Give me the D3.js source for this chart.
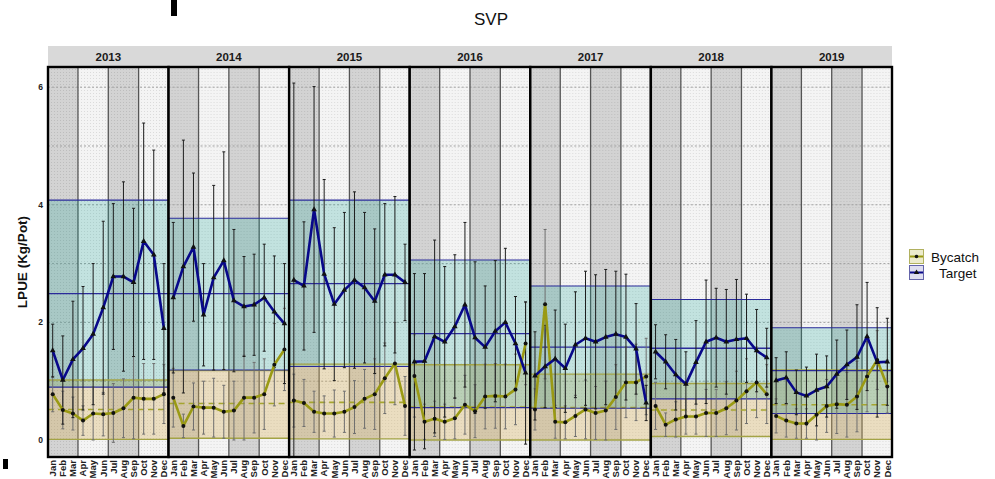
<!DOCTYPE html>
<html><head><meta charset="utf-8">
<script src="https://cdn.jsdelivr.net/npm/d3@7"></script>
<style>
body{margin:0;background:#fff;}
svg{display:block;}
text{font-family:"Liberation Sans",Arial,sans-serif;}
</style>
</head><body>
<svg id="chart" width="995" height="479"></svg>
<script>
// ---------------- DATA ----------------
const title = "SVP";
const yLabel = "LPUE (Kg/Pot)";
const years = ["2013","2014","2015","2016","2017","2018","2019"];
const months = ["Jan","Feb","Mar","Apr","May","Jun","Jul","Aug","Sep","Oct","Nov","Dec"];
const yTicks = [0,2,4,6];
const seriesNames = ["Bycatch","Target"];

// monthly means (one row per year)
const targetMean = [
  [1.52,1.02,1.37,1.56,1.80,2.25,2.78,2.78,2.68,3.38,3.15,1.90],
  [2.42,2.95,3.28,2.13,2.76,3.05,2.37,2.27,2.30,2.42,2.18,1.98],
  [2.72,2.62,3.92,2.82,2.31,2.55,2.72,2.59,2.36,2.81,2.81,2.68],
  [1.33,1.34,1.76,1.67,1.93,2.30,1.74,1.58,1.85,2.00,1.64,1.14],
  [1.09,1.25,1.38,1.22,1.62,1.73,1.67,1.75,1.80,1.75,1.55,0.63],
  [1.50,1.33,1.11,0.95,1.32,1.67,1.74,1.67,1.71,1.73,1.52,1.40],
  [1.01,1.06,0.81,0.75,0.85,0.91,1.12,1.28,1.41,1.76,1.32,1.33]
];
const targetSD = [
  [0.45,0.75,0.99,1.05,1.20,1.47,1.24,1.61,1.26,2.01,1.78,1.10],
  [1.28,2.15,1.26,0.87,1.57,1.85,1.21,0.85,0.86,0.91,0.95,1.02],
  [3.35,1.09,2.09,1.61,1.30,1.32,1.50,1.28,1.23,1.21,1.33,0.65],
  [1.50,1.49,1.64,1.28,1.22,1.40,1.29,1.04,1.20,1.26,0.80,1.21],
  [0.75,0.70,0.83,0.75,0.90,1.14,1.14,1.15,1.07,1.07,0.77,0.30],
  [0.46,0.46,0.60,0.55,0.71,1.05,0.84,0.89,1.02,0.75,0.70,0.50],
  [0.39,0.44,0.38,0.49,0.61,0.52,0.58,0.59,0.89,0.92,0.93,0.74]
];
const bycatchMean = [
  [0.78,0.51,0.45,0.33,0.45,0.44,0.46,0.54,0.72,0.70,0.70,0.78],
  [0.72,0.24,0.57,0.55,0.55,0.48,0.50,0.72,0.72,0.78,1.28,1.54],
  [0.67,0.63,0.48,0.45,0.45,0.48,0.56,0.70,0.78,1.05,1.30,0.58],
  [1.09,0.31,0.36,0.31,0.37,0.60,0.49,0.74,0.75,0.74,0.86,1.64],
  [0.52,2.31,0.31,0.30,0.41,0.52,0.46,0.50,0.73,0.98,0.98,1.08],
  [0.58,0.26,0.35,0.40,0.40,0.46,0.46,0.54,0.67,0.83,0.98,0.78],
  [0.41,0.33,0.28,0.28,0.43,0.58,0.61,0.60,0.74,1.08,1.36,0.91]
];
const bycatchSD = [
  [0.30,0.32,0.28,0.25,0.45,0.37,0.50,0.50,0.70,0.60,0.60,0.50],
  [0.50,0.20,0.40,0.45,0.50,0.45,0.50,0.72,0.60,0.60,0.70,0.70],
  [0.45,0.40,0.35,0.30,0.40,0.35,0.45,0.50,0.60,0.60,0.70,0.50],
  [0.70,0.30,0.30,0.30,0.35,0.50,0.45,0.55,0.55,0.55,0.60,0.70],
  [0.35,1.27,0.28,0.28,0.35,0.50,0.45,0.50,0.55,0.60,0.65,0.65],
  [0.40,0.20,0.30,0.30,0.30,0.40,0.40,0.45,0.50,0.55,0.60,0.50],
  [0.29,0.28,0.25,0.25,0.43,0.45,0.50,0.55,0.60,0.60,0.50,0.45]
];
// yearly reference bands (low / centre / high), one value per year
const targetBandLow  = [0.90,1.19,1.25,0.55,0.54,0.70,0.45];
const targetBandMid  = [2.49,2.49,2.66,1.81,1.58,1.56,1.18];
const targetBandHigh = [4.08,3.77,4.08,3.06,2.62,2.39,1.91];
const bycatchBandLow  = [0.01,0.03,0.02,0.00,0.00,0.06,0.01];
const bycatchBandMid  = [0.52,0.62,0.64,0.56,0.55,0.51,0.60];
const bycatchBandHigh = [1.02,1.18,1.29,1.28,1.12,0.96,1.19];

// ---------------- LAYOUT ----------------
const svg = d3.select("#chart");
const panelTop = 67, panelBottom = 457, stripTop = 46;
const fx = d3.scaleBand().domain(years).range([48, 892]).paddingInner(0).paddingOuter(0);
const bw = fx.bandwidth();
const x = d3.scalePoint().domain(months).range([0, bw]).padding(0.465);
const step = x.step();
const y = d3.scaleLinear().domain([-0.289, 6.343]).range([panelBottom, panelTop]);

const C = {
  navy: "#08088a", olive: "#9a9a14", tBorder: "#2a2a9a", bBorder: "#a3a345",
  tFill: "rgba(20,165,150,0.22)", bFill: "rgba(215,175,85,0.32)",
  qDark: "#d3d3d3", qLight: "#f4f4f4"
};

const defs = svg.append("defs");
const pat = defs.append("pattern").attr("id","dots").attr("width",3).attr("height",3)
  .attr("patternUnits","userSpaceOnUse");
pat.append("rect").attr("width",1).attr("height",1).attr("fill","rgba(0,0,0,0.10)");

// title
svg.append("text").attr("x",491).attr("y",25).attr("text-anchor","middle")
  .attr("font-size",17).attr("fill","#111").text(title);

// y label
svg.append("text").attr("transform",`translate(27,${(panelTop+panelBottom)/2}) rotate(-90)`)
  .attr("text-anchor","middle").attr("font-size",13.5).attr("font-weight","bold")
  .attr("fill","#111").text(yLabel);

// y tick labels
svg.selectAll("text.ytick").data(yTicks).join("text").attr("class","ytick")
  .attr("x",43).attr("y",d=>y(d)+3).attr("text-anchor","end")
  .attr("font-size",8.5).attr("font-weight","bold").attr("fill","#222").text(d=>d);

// strip
svg.append("rect").attr("x",48).attr("y",stripTop).attr("width",892-48).attr("height",panelTop-stripTop)
  .attr("fill","#d9d9d9");

years.forEach((yr, i) => {
  const gx = fx(yr);
  const g = svg.append("g").attr("transform",`translate(${gx},0)`);
  defs.append("clipPath").attr("id","clip"+i).append("rect")
    .attr("x",0).attr("y",panelTop).attr("width",bw).attr("height",panelBottom-panelTop);

  g.append("text").attr("x",bw/2).attr("y",stripTop+15).attr("text-anchor","middle")
    .attr("font-size",11.5).attr("font-weight","bold").attr("fill","#1a1a1a").text(yr);

  const p = g.append("g").attr("clip-path",`url(#clip${i})`);
  // quarter bands
  for (let q = 0; q < 4; q++) {
    const x0 = q === 0 ? 0 : x(months[3*q]) - step/2;
    const x1 = q === 3 ? bw : x(months[3*q+2]) + step/2;
    p.append("rect").attr("x",x0).attr("y",panelTop).attr("width",x1-x0).attr("height",panelBottom-panelTop)
      .attr("fill", q % 2 === 0 ? C.qDark : C.qLight);
  }
  p.append("rect").attr("x",0).attr("y",panelTop).attr("width",bw).attr("height",panelBottom-panelTop)
    .attr("fill","url(#dots)");
  // dotted major lines
  d3.range(1,7).forEach(v => {
    p.append("line").attr("x1",0).attr("x2",bw).attr("y1",y(v)).attr("y2",y(v))
      .attr("stroke","#a0a0a0").attr("stroke-width",1).attr("stroke-dasharray","2,2");
  });
  // quarter dividers
  [3,6,9].forEach(m => {
    const xv = x(months[m]) - step/2;
    p.append("line").attr("x1",xv).attr("x2",xv).attr("y1",panelTop).attr("y2",panelBottom)
      .attr("stroke","#555").attr("stroke-width",1.3);
  });

  // reference bands
  p.append("rect").attr("x",0).attr("width",bw)
    .attr("y",y(bycatchBandHigh[i])).attr("height",y(bycatchBandLow[i])-y(bycatchBandHigh[i]))
    .attr("fill",C.bFill);
  p.append("rect").attr("x",0).attr("width",bw)
    .attr("y",y(targetBandHigh[i])).attr("height",y(targetBandLow[i])-y(targetBandHigh[i]))
    .attr("fill",C.tFill);
  const hline = (v, col, w, dash) => {
    const l = p.append("line").attr("x1",0).attr("x2",bw).attr("y1",y(v)).attr("y2",y(v))
      .attr("stroke",col).attr("stroke-width",w);
    if (dash) l.attr("stroke-dasharray",dash);
  };
  hline(bycatchBandLow[i], C.bBorder, 1.4);
  hline(bycatchBandHigh[i], C.bBorder, 1.4);
  hline(bycatchBandMid[i], "#a5a530", 1.6, "6,4");
  hline(targetBandLow[i], C.tBorder, 1.1);
  hline(targetBandHigh[i], C.tBorder, 1.1);
  hline(targetBandMid[i], C.tBorder, 1.3);

  // error bars
  const drawErr = (means, sds, col) => {
    months.forEach((m, j) => {
      const lo = means[j] - sds[j], hi = means[j] + sds[j];
      const xv = x(m);
      p.append("line").attr("x1",xv).attr("x2",xv).attr("y1",y(lo)).attr("y2",y(hi))
        .attr("stroke",col).attr("stroke-width",1);
      [lo,hi].forEach(v => p.append("line").attr("x1",xv-1.5).attr("x2",xv+1.5)
        .attr("y1",y(v)).attr("y2",y(v)).attr("stroke",col).attr("stroke-width",1));
    });
  };
  drawErr(bycatchMean[i], bycatchSD[i], "#6e6e6e");
  drawErr(targetMean[i], targetSD[i], "#1c1c1c");

  // lines
  const line = d3.line().x((d,j)=>x(months[j])).y(d=>y(d));
  p.append("path").attr("d",line(bycatchMean[i])).attr("fill","none")
    .attr("stroke",C.olive).attr("stroke-width",2.6).attr("stroke-linejoin","round");
  p.append("path").attr("d",line(targetMean[i])).attr("fill","none")
    .attr("stroke",C.navy).attr("stroke-width",2.6).attr("stroke-linejoin","round");
  // markers
  bycatchMean[i].forEach((v,j) => p.append("circle").attr("cx",x(months[j])).attr("cy",y(v))
    .attr("r",2).attr("fill","#111"));
  const tri = d3.symbol().type(d3.symbolTriangle).size(14);
  targetMean[i].forEach((v,j) => p.append("path").attr("d",tri())
    .attr("transform",`translate(${x(months[j])},${y(v)})`).attr("fill","#111"));

  // panel border
  g.append("rect").attr("x",0).attr("y",panelTop).attr("width",bw).attr("height",panelBottom-panelTop)
    .attr("fill","none").attr("stroke","#000").attr("stroke-width",2.4);

  // month labels
  months.forEach(m => {
    g.append("text").attr("transform",`translate(${x(m)+3.3},${panelBottom+3}) rotate(-90)`)
      .attr("text-anchor","end").attr("font-size",9.5).attr("font-weight","bold")
      .attr("fill","#222").text(m);
  });
});

// legend
const lg = svg.append("g");
const keys = [
  {name: seriesNames[0], y: 249, fill:"#ecebcd", stroke:"#b1b160", col: C.olive, shape:"dot"},
  {name: seriesNames[1], y: 265, fill:"#dedef0", stroke:"#6464aa", col: C.navy, shape:"tri"}
];
keys.forEach((k, idx) => {
  lg.append("rect").attr("x",909.5).attr("y",k.y+0.5).attr("width",14).attr("height",14)
    .attr("fill",k.fill).attr("stroke",k.stroke).attr("stroke-width",1);
  lg.append("line").attr("x1",910).attr("x2",923).attr("y1",k.y+7.5).attr("y2",k.y+7.5)
    .attr("stroke",k.col).attr("stroke-width",2);
  if (k.shape === "dot") lg.append("circle").attr("cx",916.5).attr("cy",k.y+7.5).attr("r",1.8).attr("fill","#111");
  else lg.append("path").attr("d",d3.symbol().type(d3.symbolTriangle).size(12)())
    .attr("transform",`translate(916.5,${k.y+7.5})`).attr("fill","#111");
  lg.append("text").attr("x", idx === 0 ? 931 : 939).attr("y",k.y+13)
    .attr("font-size",13.5).attr("fill","#111").text(k.name);
});

// stray marks present in the reference image
svg.append("rect").attr("x",171).attr("y",0).attr("width",6).attr("height",16).attr("fill","#000");
svg.append("rect").attr("x",3).attr("y",459).attr("width",5).attr("height",10).attr("fill","#000");
</script>
</body></html>
